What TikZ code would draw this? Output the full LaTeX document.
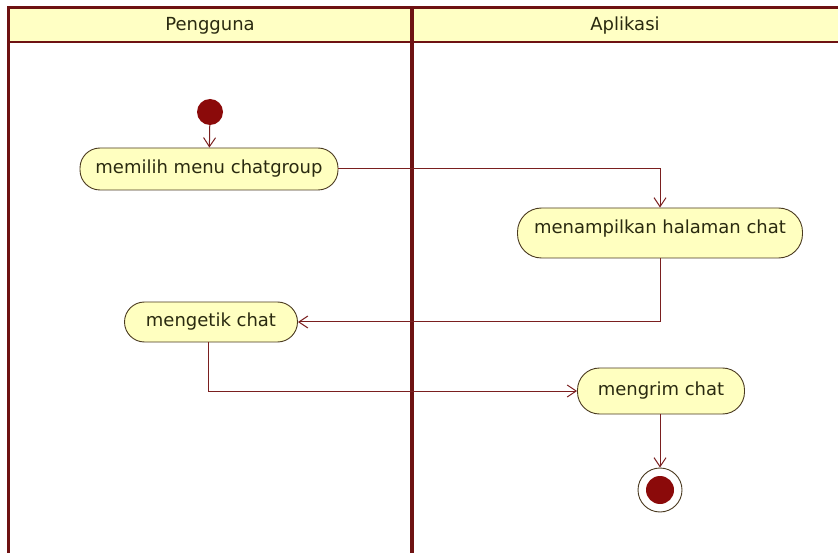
\documentclass[tikz,border=0pt]{standalone}
\usepackage{fontspec}
\setmainfont{DejaVu Sans}
\usetikzlibrary{arrows.meta}
\definecolor{lane}{HTML}{6E1212}
\definecolor{flow}{HTML}{7A1F1F}
\definecolor{headfill}{HTML}{FFFFC4}
\definecolor{actfill}{HTML}{FFFFC0}
\definecolor{actline}{HTML}{4A3A20}
\definecolor{txt}{HTML}{2A2A10}
\definecolor{dot}{HTML}{8B0A0A}
\tikzset{
  act/.style={draw=actline, line width=0.9pt, fill=actfill, rounded corners=20pt,
    minimum height=42pt, inner xsep=10pt, font=\fontsize{18}{21}\selectfont, text=txt},
  flowline/.style={draw=flow, line width=1pt, -{Straight Barb[length=9pt,width=12pt]}},
  lanehead/.style={font=\fontsize{18}{21}\selectfont, text=txt},
}
\begin{document}
\begin{tikzpicture}[x=1pt,y=-1pt]
  \useasboundingbox (0,0) rectangle (838,553);
  % swimlane frame
  \fill[headfill] (8,8) rectangle (838,42);
  \draw[lane, line width=3pt] (838,8) -- (8,8) -- (8,553);
  \draw[lane, line width=2.5pt] (8,42) -- (838,42);
  \draw[lane, line width=4pt] (412,8) -- (412,553);
  \node[lanehead] (h1) at (210,26) {Pengguna};
  \node[lanehead] (h2) at (625,26) {Aplikasi};
  % activities
  \node[circle, fill=dot, minimum size=26pt, inner sep=0pt] (start) at (210,112) {};
  \node[act, minimum width=258pt] (a1) at (209,169) {memilih menu chatgroup};
  \node[act, minimum width=285pt, minimum height=50pt, rounded corners=24pt, text depth=12pt] (a2) at (660,233) {menampilkan halaman chat};
  \node[act, minimum width=173pt, minimum height=40pt] (a3) at (211,322) {mengetik chat};
  \node[act, minimum width=167pt, minimum height=46pt, rounded corners=22pt] (a4) at (661,391) {mengrim chat};
  \node[circle, draw=actline, line width=0.9pt, fill=white, minimum size=44pt, inner sep=0pt] (end) at (660,490) {};
  \node[circle, fill=dot, minimum size=28pt, inner sep=0pt] (endin) at (end) {};
  % control flow
  \draw[flowline] (start) -- (a1);
  \draw[flowline] (a1.east) -| (a2.north);
  \draw[flowline] (a2.south) |- (a3.east);
  \draw[flowline] (a3.south -| 208,0) |- (a4.west);
  \draw[flowline] (a4.south -| end) -- (end.north);
\end{tikzpicture}
\end{document}
